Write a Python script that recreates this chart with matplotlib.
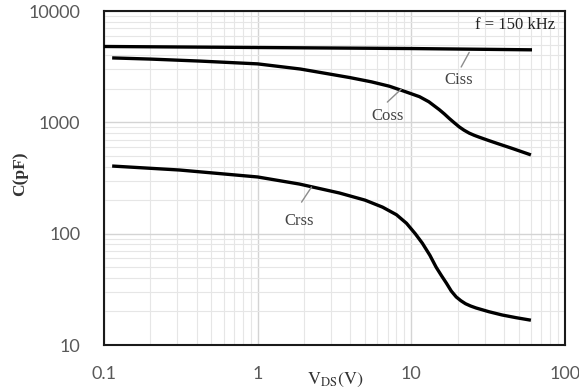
import matplotlib
matplotlib.use("Agg")
import matplotlib.pyplot as plt
from matplotlib.ticker import FixedLocator, FixedFormatter, LogLocator, NullFormatter

# Capacitance vs drain-source voltage (f = 150 kHz)
ciss_v = [0.1, 1, 10, 61]
ciss_c = [4800, 4700, 4600, 4480]

coss_v = [0.113, 0.2, 0.42, 1.0, 1.9, 3.0, 4.0, 5.5, 7.2, 9.0, 11.3, 13.0,
          15.2, 16.4, 17.7, 19.0, 20.5, 22.0, 23.8, 25.7, 27.7, 32, 37, 45, 60]
coss_c = [3790, 3700, 3550, 3350, 3010, 2700, 2520, 2310, 2110, 1900, 1700, 1530,
          1300, 1190, 1080, 993, 910, 851, 800, 764, 735, 685, 640, 585, 510]

crss_v = [0.113, 0.31, 1.0, 1.87, 3.4, 5.0, 6.5, 8.0, 9.3, 10.6, 11.8, 13.2,
          14.5, 15.7, 16.9, 18.2, 19.6, 21.0, 22.5, 24.3, 26.4, 32, 39, 48, 60]
crss_c = [405, 373, 323, 279, 232, 200, 173, 148, 124, 100, 82, 64,
          50, 42, 36, 30.5, 27, 25, 23.5, 22.4, 21.5, 19.9, 18.6, 17.6, 16.7]

x_ticks = [0.1, 1, 10, 100]
x_tick_labels = ["0.1", "1", "10", "100"]
y_ticks = [10, 100, 1000, 10000]
y_tick_labels = ["10", "100", "1000", "10000"]

fig = plt.figure(figsize=(5.79, 3.92), dpi=100)
ax = fig.add_axes([104 / 579, 1 - 345 / 392, (565 - 104) / 579, (345 - 11) / 392])

curve_kw = dict(color="black", lw=2.4, solid_capstyle="butt",
                solid_joinstyle="round", zorder=3)
ax.plot(ciss_v, ciss_c, **curve_kw)
ax.plot(coss_v, coss_c, **curve_kw)
ax.plot(crss_v, crss_c, **curve_kw)

ax.set_xscale("log")
ax.set_yscale("log")
ax.set_xlim(0.1, 100)
ax.set_ylim(10, 10000)

ax.xaxis.set_major_locator(FixedLocator(x_ticks))
ax.xaxis.set_major_formatter(FixedFormatter(x_tick_labels))
ax.yaxis.set_major_locator(FixedLocator(y_ticks))
ax.yaxis.set_major_formatter(FixedFormatter(y_tick_labels))
ax.xaxis.set_minor_locator(LogLocator(base=10, subs=range(2, 10)))
ax.yaxis.set_minor_locator(LogLocator(base=10, subs=range(2, 10)))
ax.xaxis.set_minor_formatter(NullFormatter())
ax.yaxis.set_minor_formatter(NullFormatter())

ax.grid(which="major", color="#d4d4d4", lw=1.0)
ax.grid(which="minor", color="#e6e6e6", lw=0.8)
ax.set_axisbelow(True)

ax.tick_params(which="both", length=0)
ax.tick_params(axis="x", pad=15, labelsize=13, labelcolor="#595959")
ax.tick_params(axis="y", pad=17, labelsize=13, labelcolor="#595959")
for lab in ax.get_xticklabels() + ax.get_yticklabels():
    lab.set_fontfamily("Lato")

for sp in ax.spines.values():
    sp.set_color("#1a1a1a")
    sp.set_linewidth(1.5)

fig.text(20 / 579, 1 - 174 / 392, "C(pF)", rotation=90, ha="center", va="center",
         family="Liberation Serif", fontsize=12.5, fontweight="bold", color="#333333")
fig.text(335 / 579, 1 - 380 / 392, r"$\mathrm{V_{DS}(V)}$", ha="center", va="center",
         fontsize=13, color="#333333", math_fontfamily="stix")

ax.text(0.978, 0.958, "f = 150 kHz", transform=ax.transAxes, ha="right", va="center",
        family="Liberation Serif", fontsize=12, color="#222222")

label_kw = dict(family="Liberation Serif", fontsize=12, color="#444444",
                ha="center", va="center")
leader = dict(arrowstyle="-", color="#8c8c8c", lw=1.0, shrinkA=0, shrinkB=0)
ax.annotate("", xy=(23.8, 4250), xytext=(21.1, 3140), arrowprops=leader)
ax.text(20.2, 2400, "Ciss", **label_kw)
ax.annotate("", xy=(8.6, 1990), xytext=(6.98, 1520), arrowprops=leader)
ax.text(6.98, 1140, "Coss", **label_kw)
ax.annotate("", xy=(2.24, 262), xytext=(1.93, 192), arrowprops=leader)
ax.text(1.87, 130, "Crss", **label_kw)

fig.savefig("out.png", dpi=100)
